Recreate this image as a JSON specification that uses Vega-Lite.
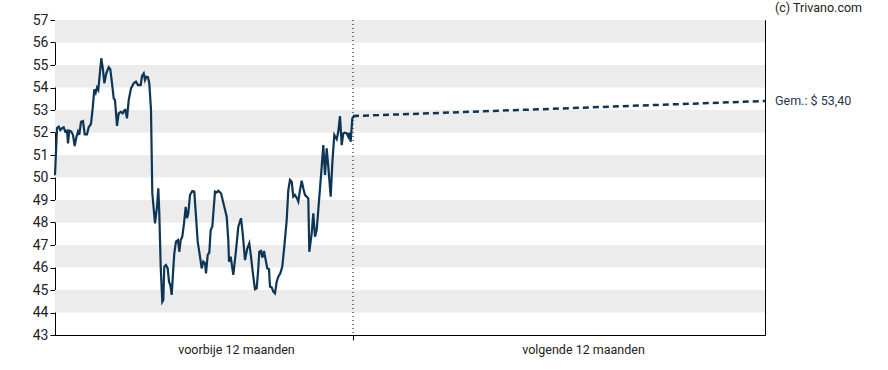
{
  "$schema": "https://vega.github.io/schema/vega-lite/v6.json",
  "width": 710,
  "height": 315,
  "autosize": {"type": "none"},
  "padding": {"left": 55, "top": 20, "right": 123, "bottom": 35},
  "background": "white",
  "config": {
    "font": "Roboto",
    "view": {"stroke": "#000000", "strokeWidth": 1},
    "axis": {"labelOverlap": false, "labelFlush": false, "grid": false, "domainColor": "#000000", "tickColor": "#000000", "tickSize": 5, "labelColor": "#222222", "labelFont": "Roboto", "title": null},
    "axisY": {"tickCount": 14, "labelFontSize": 14, "labelPadding": 2}
  },
  "datasets": {
    "bands": [
      {"lo": 44, "hi": 45}, {"lo": 46, "hi": 47}, {"lo": 48, "hi": 49},
      {"lo": 50, "hi": 51}, {"lo": 52, "hi": 53}, {"lo": 54, "hi": 55}, {"lo": 56, "hi": 57}
    ],
    "hist": [
      {"t": 0, "v": 50.1}, {"t": 2, "v": 52.2}, {"t": 3.7, "v": 52.26}, {"t": 5.3, "v": 52.11},
      {"t": 7, "v": 52.19}, {"t": 8.7, "v": 52.23}, {"t": 10.3, "v": 52.04}, {"t": 12, "v": 52.08},
      {"t": 13, "v": 51.52}, {"t": 14.3, "v": 52.08}, {"t": 16.3, "v": 52.04}, {"t": 18, "v": 51.89},
      {"t": 19.7, "v": 51.4}, {"t": 21.3, "v": 51.78}, {"t": 23, "v": 52.04}, {"t": 24.3, "v": 51.89},
      {"t": 26, "v": 52.48}, {"t": 28, "v": 52.51}, {"t": 29.7, "v": 51.92}, {"t": 32, "v": 51.92},
      {"t": 33.7, "v": 52.23}, {"t": 36, "v": 52.38}, {"t": 37.7, "v": 53.08}, {"t": 39.3, "v": 53.92},
      {"t": 40.7, "v": 53.77}, {"t": 42, "v": 54.0}, {"t": 43.3, "v": 53.89}, {"t": 46.3, "v": 55.3},
      {"t": 48, "v": 54.78}, {"t": 49.3, "v": 54.19}, {"t": 51.3, "v": 54.63}, {"t": 53.7, "v": 54.9},
      {"t": 55.3, "v": 54.81}, {"t": 57, "v": 54.19}, {"t": 58.7, "v": 53.52}, {"t": 60, "v": 53.44},
      {"t": 62, "v": 52.29}, {"t": 63.7, "v": 52.85}, {"t": 65.7, "v": 52.92}, {"t": 67.7, "v": 52.85},
      {"t": 69, "v": 52.97}, {"t": 70.3, "v": 53.0}, {"t": 72, "v": 52.63}, {"t": 73.7, "v": 53.44},
      {"t": 76, "v": 53.96}, {"t": 78.7, "v": 54.19}, {"t": 81, "v": 54.26}, {"t": 83, "v": 54.11},
      {"t": 85.7, "v": 54.11}, {"t": 87, "v": 54.51}, {"t": 88.7, "v": 54.63}, {"t": 90, "v": 54.33},
      {"t": 91.3, "v": 54.48}, {"t": 93, "v": 54.45}, {"t": 94.3, "v": 54.19}, {"t": 96, "v": 53.0},
      {"t": 97.3, "v": 49.3}, {"t": 100, "v": 47.96}, {"t": 102, "v": 48.7}, {"t": 103.3, "v": 49.52},
      {"t": 104.3, "v": 48.41}, {"t": 105.7, "v": 46.04}, {"t": 107.3, "v": 44.48}, {"t": 108.3, "v": 44.56},
      {"t": 109.3, "v": 46.04}, {"t": 111, "v": 46.11}, {"t": 112.7, "v": 45.96}, {"t": 114, "v": 45.37},
      {"t": 115.3, "v": 45.22}, {"t": 116.7, "v": 44.78}, {"t": 118, "v": 45.74}, {"t": 119.3, "v": 46.63},
      {"t": 121, "v": 47.15}, {"t": 123, "v": 47.22}, {"t": 124.3, "v": 46.7}, {"t": 125.7, "v": 47.22},
      {"t": 127.3, "v": 47.37}, {"t": 129, "v": 47.96}, {"t": 130.7, "v": 48.7}, {"t": 132, "v": 48.19},
      {"t": 133.3, "v": 48.41}, {"t": 135, "v": 49.22}, {"t": 137.3, "v": 49.4}, {"t": 139.3, "v": 49.37},
      {"t": 141, "v": 48.26}, {"t": 142.7, "v": 47.15}, {"t": 145, "v": 46.48}, {"t": 146.7, "v": 45.96},
      {"t": 148.3, "v": 46.26}, {"t": 150, "v": 46.19}, {"t": 151, "v": 45.74}, {"t": 152.7, "v": 46.56},
      {"t": 154.3, "v": 46.66}, {"t": 155.7, "v": 47.67}, {"t": 157.3, "v": 47.81}, {"t": 160, "v": 49.37},
      {"t": 161.7, "v": 49.34}, {"t": 163.3, "v": 49.41}, {"t": 166, "v": 49.3}, {"t": 169.3, "v": 48.7},
      {"t": 171.7, "v": 48.26}, {"t": 173.3, "v": 47.22}, {"t": 174, "v": 46.26}, {"t": 175.7, "v": 46.48},
      {"t": 178.3, "v": 45.67}, {"t": 180.7, "v": 46.63}, {"t": 183.3, "v": 47.81}, {"t": 186, "v": 48.19},
      {"t": 187.7, "v": 47.52}, {"t": 190, "v": 46.33}, {"t": 192.3, "v": 46.85}, {"t": 194.3, "v": 47.07},
      {"t": 196, "v": 46.48}, {"t": 198.3, "v": 45.59}, {"t": 200, "v": 45.03}, {"t": 201.7, "v": 45.07},
      {"t": 203.3, "v": 45.96}, {"t": 204.3, "v": 46.7}, {"t": 206, "v": 46.74}, {"t": 207.3, "v": 46.44},
      {"t": 209, "v": 46.73}, {"t": 210.7, "v": 46.33}, {"t": 212.3, "v": 45.96}, {"t": 214, "v": 45.93},
      {"t": 215, "v": 45.15}, {"t": 216.7, "v": 45.12}, {"t": 218.3, "v": 44.93}, {"t": 220, "v": 44.85},
      {"t": 221.7, "v": 45.37}, {"t": 223.3, "v": 45.59}, {"t": 225.3, "v": 45.74}, {"t": 227.3, "v": 46.04},
      {"t": 229.3, "v": 46.93}, {"t": 231.7, "v": 48.11}, {"t": 233.3, "v": 49.44}, {"t": 235, "v": 49.89},
      {"t": 236.7, "v": 49.81}, {"t": 238.3, "v": 49.15}, {"t": 240, "v": 49.22}, {"t": 242, "v": 49.07},
      {"t": 243.3, "v": 48.93}, {"t": 245, "v": 49.44}, {"t": 246.7, "v": 49.86}, {"t": 248.3, "v": 49.52},
      {"t": 250, "v": 49.22}, {"t": 251.7, "v": 49.15}, {"t": 253.3, "v": 49.07}, {"t": 254.3, "v": 46.7},
      {"t": 256.7, "v": 47.52}, {"t": 258.3, "v": 48.41}, {"t": 260, "v": 47.37}, {"t": 261.7, "v": 47.67},
      {"t": 263.3, "v": 48.56}, {"t": 265, "v": 49.52}, {"t": 266.7, "v": 50.48}, {"t": 268.3, "v": 51.44},
      {"t": 270, "v": 50.11}, {"t": 271.7, "v": 51.3}, {"t": 273.3, "v": 50.48}, {"t": 275.7, "v": 49.15},
      {"t": 277.3, "v": 50.63}, {"t": 279.3, "v": 51.89}, {"t": 281.7, "v": 51.7}, {"t": 283.3, "v": 52.04},
      {"t": 285, "v": 52.73}, {"t": 286.7, "v": 51.44}, {"t": 288.3, "v": 51.96}, {"t": 290, "v": 51.99},
      {"t": 291.7, "v": 51.96}, {"t": 293.3, "v": 51.81}, {"t": 294.3, "v": 51.99}, {"t": 295.7, "v": 51.59},
      {"t": 297.3, "v": 52.63}, {"t": 299, "v": 52.73}, {"t": 301.7, "v": 52.73}
    ],
    "forecast": [{"t": 298, "v": 52.73}, {"t": 710, "v": 53.4}],
    "divider": [{"t": 298}],
    "labels": [
      {"t": 720, "v": 53.4, "txt": "Gem.: $ 53,40", "c": "#1f3650"},
      {"t": 720, "v": 57.53, "txt": "(c) Trivano.com", "c": "#222222"}
    ]
  },
  "layer": [
    {
      "data": {"name": "bands"},
      "mark": {"type": "rect", "color": "#ececec"},
      "encoding": {
        "y": {"field": "lo", "type": "quantitative", "scale": {"domain": [43, 57], "nice": false, "zero": false}},
        "y2": {"field": "hi"}
      }
    },
    {
      "data": {"name": "divider"},
      "mark": {"type": "rule", "color": "#000000", "strokeWidth": 1, "strokeDash": [1, 3]},
      "encoding": {
        "x": {"field": "t", "type": "quantitative", "scale": {"domain": [0, 710], "nice": false, "zero": false},
          "axis": {"values": [181, 298, 528],
            "tickOpacity": {"condition": {"test": "datum.value == 298", "value": 1}, "value": 0},
            "labelExpr": "datum.value == 181 ? 'voorbije 12 maanden' : (datum.value == 528 ? 'volgende 12 maanden' : '')",
            "labelFontSize": 12.5, "labelPadding": 3}}
      }
    },
    {
      "data": {"name": "hist"},
      "mark": {"type": "line", "color": "#0c3556", "strokeWidth": 2.2, "interpolate": "linear"},
      "encoding": {
        "x": {"field": "t", "type": "quantitative"},
        "y": {"field": "v", "type": "quantitative"}
      }
    },
    {
      "data": {"name": "forecast"},
      "mark": {"type": "line", "color": "#0c3556", "strokeWidth": 2.5, "strokeDash": [6, 4]},
      "encoding": {
        "x": {"field": "t", "type": "quantitative"},
        "y": {"field": "v", "type": "quantitative"}
      }
    },
    {
      "data": {"name": "labels"},
      "mark": {"type": "text", "align": "left", "baseline": "middle", "fontSize": 12.5, "font": "Roboto"},
      "encoding": {
        "x": {"field": "t", "type": "quantitative"},
        "y": {"field": "v", "type": "quantitative"},
        "text": {"field": "txt"},
        "color": {"field": "c", "type": "nominal", "scale": null}
      }
    }
  ]
}
